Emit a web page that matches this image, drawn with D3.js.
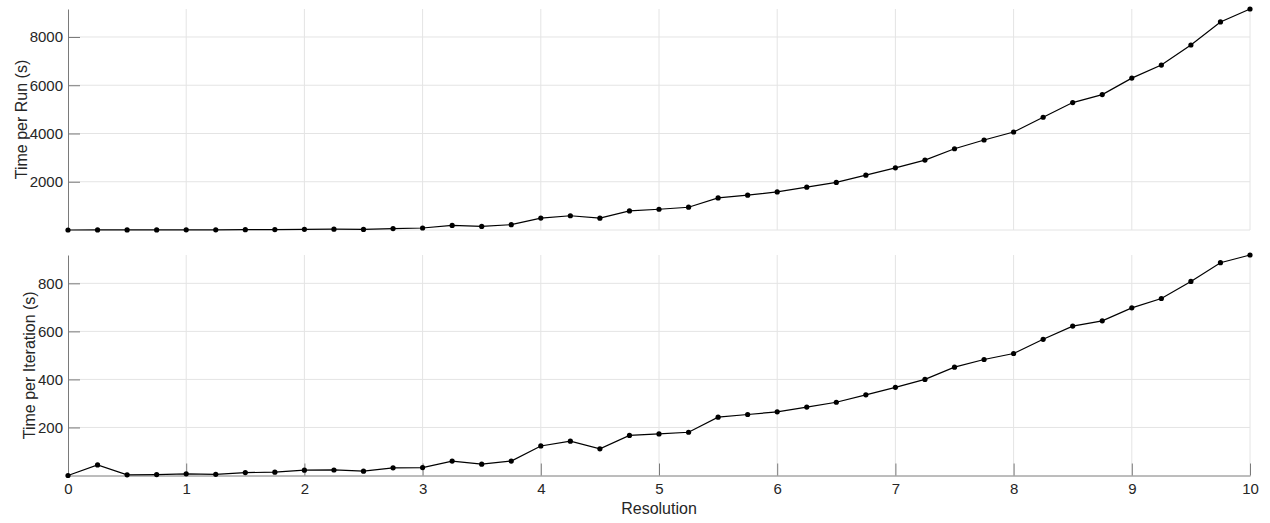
<!DOCTYPE html>
<html>
<head>
<meta charset="utf-8">
<script src="https://cdn.jsdelivr.net/npm/d3@7"></script>
<style>
  body { margin: 0; background: #fff; }
  svg text { font-family: "Liberation Sans", Arial, Helvetica, sans-serif; }
</style>
</head>
<body>
<div id="chart-container"></div>
<script>
// Data
const resolution = [0, 0.25, 0.5, 0.75, 1, 1.25, 1.5, 1.75, 2, 2.25, 2.5, 2.75,
    3, 3.25, 3.5, 3.75, 4, 4.25, 4.5, 4.75, 5, 5.25, 5.5, 5.75, 6, 6.25, 6.5, 6.75,
    7, 7.25, 7.5, 7.75, 8, 8.25, 8.5, 8.75, 9, 9.25, 9.5, 9.75, 10];

const timePerRun = [0, 5, 3, 5, 8, 6, 15, 18, 30, 35, 25, 60,
    83, 190, 150, 220, 495, 590, 490, 790, 861, 944, 1331, 1443, 1580, 1775, 1971, 2274,
    2578, 2898, 3368, 3730, 4062, 4674, 5281, 5613, 6295, 6836, 7667, 8624, 9160];

const timePerIteration = [0, 44, 3, 4, 7, 5, 12, 14, 22, 23, 18, 32,
    33, 60, 47, 60, 123, 143, 111, 167, 173, 180, 243, 254, 265, 285, 305, 336,
    367, 400, 451, 483, 508, 567, 622, 644, 698, 737, 808, 886, 918];

const xTicks = [0, 1, 2, 3, 4, 5, 6, 7, 8, 9, 10];
const runTicks = [2000, 4000, 6000, 8000];
const iterTicks = [200, 400, 600, 800];

const width = 1270;
const height = 523;
const gridColor = '#e4e4e4';
const axisColor = '#7a7a7a';
const textColor = '#262626';

const svg = d3.select('#chart-container').append('svg')
    .attr('width', width)
    .attr('height', height);

const x = d3.scaleLinear()
    .domain([0, 10])
    .range([68, 1250]);

function styleAxis(sel) {
    sel.attr('font-family', null).attr('font-size', null);
    sel.selectAll('path, line').attr('stroke', axisColor);
    sel.selectAll('text').attr('fill', textColor).style('font-size', '15px');
}

function drawPanel(values, yTicks, top, bottom, label, labelX, showXAxis) {
    const y = d3.scaleLinear()
        .domain([0, d3.max(values)])
        .range([bottom, top]);

    const g = svg.append('g');

    // grid
    g.selectAll('.vgrid')
        .data(xTicks.filter(d => d > 0))
        .enter().append('line')
        .attr('x1', d => x(d)).attr('x2', d => x(d))
        .attr('y1', top).attr('y2', bottom)
        .attr('stroke', gridColor);

    g.selectAll('.hgrid')
        .data(yTicks)
        .enter().append('line')
        .attr('x1', x(0)).attr('x2', x(10))
        .attr('y1', d => y(d)).attr('y2', d => y(d))
        .attr('stroke', gridColor);

    if (showXAxis) {
        g.append('g')
            .attr('transform', `translate(0,${bottom})`)
            .call(d3.axisBottom(x).tickValues(xTicks).tickFormat(d3.format('d'))
                .tickSizeInner(-12).tickSizeOuter(0).tickPadding(8))
            .call(styleAxis);
    } else {
        g.append('line')
            .attr('x1', x(0)).attr('x2', x(10))
            .attr('y1', bottom).attr('y2', bottom)
            .attr('stroke', gridColor);
    }

    g.append('g')
        .attr('transform', `translate(${x(0)},0)`)
        .call(d3.axisLeft(y).tickValues(yTicks).tickFormat(d3.format('d'))
            .tickSizeInner(-12).tickSizeOuter(0).tickPadding(5))
        .call(styleAxis);

    const line = d3.line()
        .x((d, i) => x(resolution[i]))
        .y(d => y(d));

    g.append('path')
        .datum(values)
        .attr('fill', 'none')
        .attr('stroke', '#000')
        .attr('stroke-width', 1.2)
        .attr('d', line);

    g.selectAll('.dot')
        .data(values)
        .enter().append('circle')
        .attr('cx', (d, i) => x(resolution[i]))
        .attr('cy', d => y(d))
        .attr('r', 2.6)
        .attr('fill', '#000');

    g.append('text')
        .attr('transform', `translate(${labelX},${(top + bottom) / 2}) rotate(-90)`)
        .attr('text-anchor', 'middle')
        .attr('fill', textColor)
        .style('font-size', '16px')
        .text(label);
}

drawPanel(timePerRun, runTicks, 9, 230, 'Time per Run (s)', 26.5, false);
drawPanel(timePerIteration, iterTicks, 255, 475.5, 'Time per Iteration (s)', 34.5, true);

svg.append('text')
    .attr('x', (x(0) + x(10)) / 2)
    .attr('y', 514)
    .attr('text-anchor', 'middle')
    .attr('fill', textColor)
    .style('font-size', '16px')
    .text('Resolution');
</script>
</body>
</html>
